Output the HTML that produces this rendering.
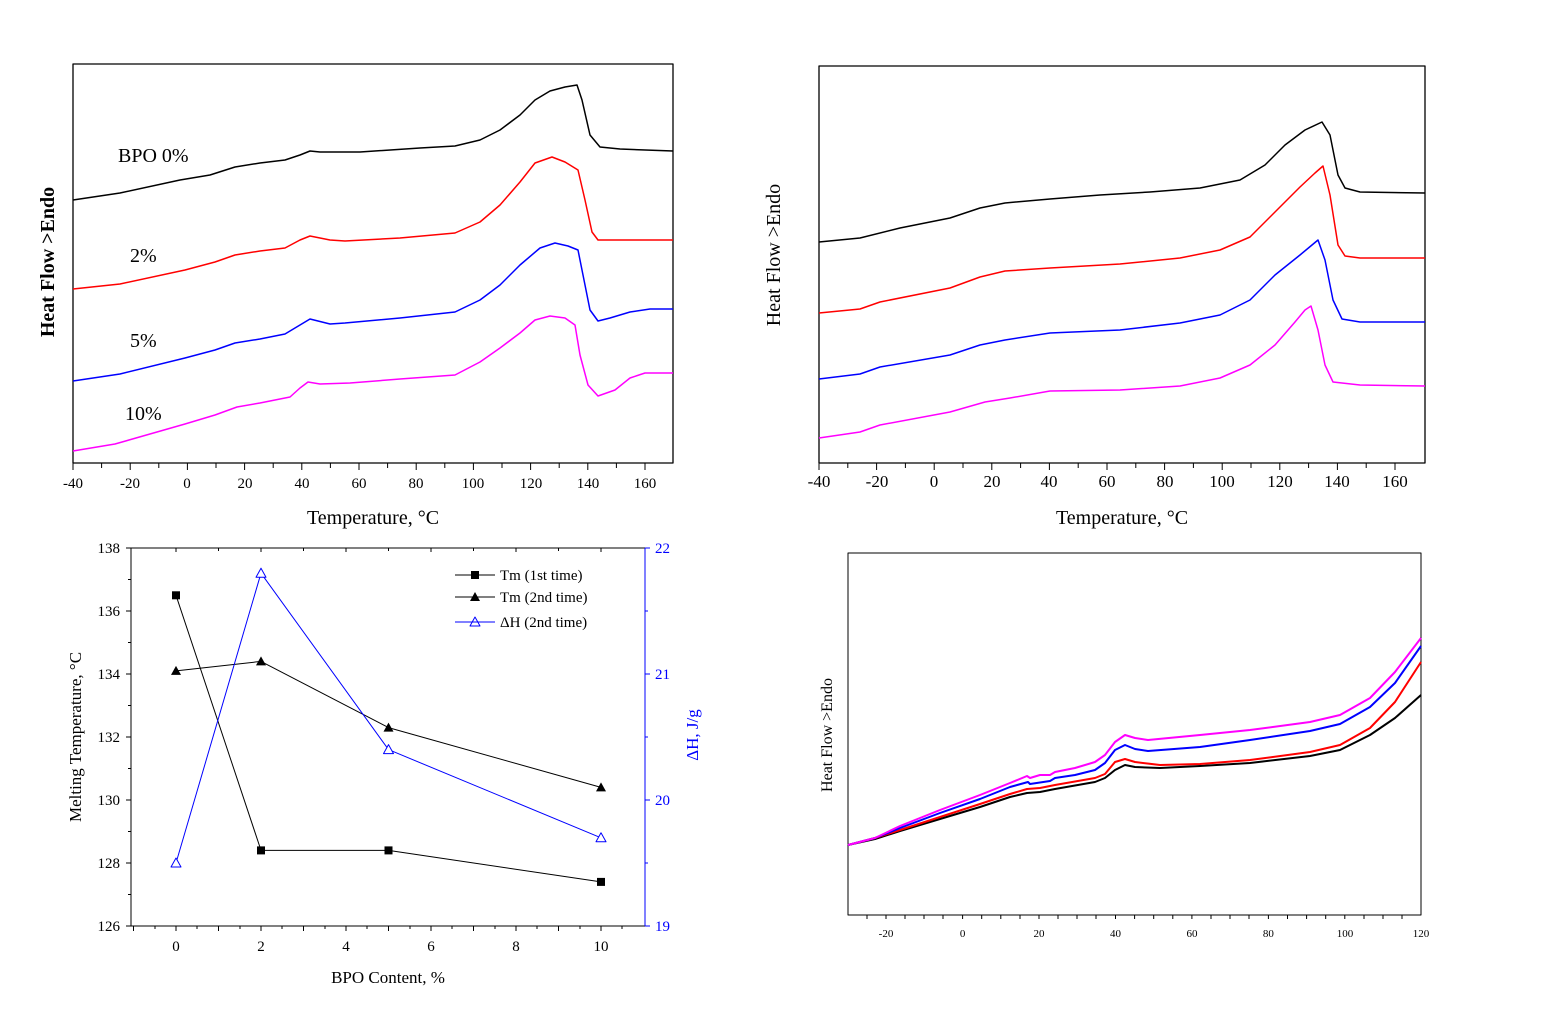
<!DOCTYPE html>
<html><head><meta charset="utf-8"><style>
html,body{margin:0;padding:0;background:#fff;}
svg{display:block;font-family:"Liberation Serif",serif;}
</style></head><body>
<svg width="1553" height="1016" viewBox="0 0 1553 1016" xmlns="http://www.w3.org/2000/svg">
<g fill="none" stroke-width="1.5" stroke-linejoin="round">
<rect x="73" y="64" width="600" height="399" stroke="#000" stroke-width="1.3"/>
<path stroke="#000" d="M73,463v7M101.6,463v5M130.2,463v7M158.8,463v5M187.4,463v7M216,463v5M244.6,463v7M273.2,463v5M301.8,463v7M330.4,463v5M359,463v7M387.6,463v5M416.2,463v7M444.8,463v5M473.4,463v7M502,463v5M530.6,463v7M559.2,463v5M587.8,463v7M616.4,463v5M645,463v7" stroke-width="1"/>
<polyline stroke="#000" points="73,200 120,193 180,180 210,175 235,167 260,163 285,160 300,155 310,151 320,152 360,152 420,148 455,146 480,140 500,130 520,115 535,100 550,91 565,87 577,85 582,100 590,135 600,147 620,149 673,151"/>
<polyline stroke="#f00" points="73,289 120,284 185,270 215,262 235,255 260,251 285,248 300,240 310,236 330,240 345,241 400,238 455,233 480,222 500,205 520,182 535,163 552,157 565,162 578,170 585,200 592,232 598,240 673,240"/>
<polyline stroke="#00f" points="73,381 120,374 185,358 215,350 235,343 260,339 285,334 300,325 310,319 330,324 345,323 400,318 455,312 480,300 500,285 520,265 540,248 555,243 568,246 578,250 583,275 590,310 598,321 610,318 630,312 650,309 673,309"/>
<polyline stroke="#f0f" points="73,451 115,444 185,424 215,415 237,407 260,403 290,397 300,388 308,382 320,384 350,383 400,379 455,375 480,362 500,348 520,333 535,320 550,316 565,318 575,325 580,355 588,385 598,396 615,390 630,378 645,373 673,373"/>
<rect x="819" y="66" width="606" height="397" stroke="#000" stroke-width="1.3"/>
<path stroke="#000" d="M819,463v7M847.8,463v5M876.6,463v7M905.4,463v5M934.2,463v7M963,463v5M991.8,463v7M1020.6,463v5M1049.4,463v7M1078.2,463v5M1107,463v7M1135.8,463v5M1164.6,463v7M1193.4,463v5M1222.2,463v7M1251,463v5M1279.8,463v7M1308.6,463v5M1337.4,463v7M1366.2,463v5M1395,463v7" stroke-width="1"/>
<polyline stroke="#000" points="819,242 860,238 900,228 950,218 980,208 1005,203 1050,199 1100,195 1150,192 1200,188 1240,180 1265,165 1285,145 1305,130 1322,122 1330,135 1338,175 1345,188 1360,192 1425,193"/>
<polyline stroke="#f00" points="819,313 860,309 880,302 950,288 980,277 1005,271 1050,268 1120,264 1180,258 1220,250 1250,237 1275,212 1300,187 1315,173 1323,166 1330,195 1338,245 1345,256 1360,258 1425,258"/>
<polyline stroke="#00f" points="819,379 860,374 880,367 950,355 980,345 1005,340 1050,333 1120,330 1180,323 1220,315 1250,300 1275,275 1300,255 1312,245 1318,240 1325,260 1333,300 1342,319 1360,322 1425,322"/>
<polyline stroke="#f0f" points="819,438 860,432 880,425 950,412 985,402 1010,398 1050,391 1120,390 1180,386 1220,378 1250,365 1275,345 1295,322 1305,310 1311,306 1318,330 1325,365 1333,382 1360,385 1425,386"/>
<path stroke="#000" stroke-width="1" d="M131,548V926H645M131,548H645"/>
<path stroke="#00f" stroke-width="1" d="M645,548V926"/>
<path stroke="#000" stroke-width="1" d="M133.5,926v5M155,926v3M176,926v5M197,926v3M218.5,926v5M240,926v3M261,926v5M282,926v3M303.5,926v5M325,926v3M346,926v5M367,926v3M388.5,926v5M410,926v3M431,926v5M452,926v3M473.5,926v5M495,926v3M516,926v5M537,926v3M558.5,926v5M580,926v3M601,926v5M622,926v3M176,548v4M218.5,548v3M261,548v4M303.5,548v3M346,548v4M388.5,548v3M431,548v4M473.5,548v3M516,548v4M558.5,548v3M601,548v4M131,548h-5M131,579.5h-3M131,611h-5M131,642.5h-3M131,674h-5M131,705.5h-3M131,737h-5M131,768.5h-3M131,800h-5M131,831.5h-3M131,863h-5M131,894.5h-3M131,926h-5"/>
<path stroke="#00f" stroke-width="1" d="M645,548h5M645,611h3M645,674h5M645,737h3M645,800h5M645,863h3M645,926h5"/>
<polyline stroke="#000" stroke-width="1" points="176,595.3 261,850.4 388.5,850.4 601,881.9"/>
<polyline stroke="#000" stroke-width="1" points="176,670.9 261,661.4 388.5,727.6 601,787.4"/>
<polyline stroke="#00f" stroke-width="1" points="176,863 261,573.2 388.5,749.6 601,837.8"/>
<g fill="#000" stroke="none">
<rect x="172" y="591.3" width="8" height="8"/><rect x="257" y="846.4" width="8" height="8"/><rect x="384.5" y="846.4" width="8" height="8"/><rect x="597" y="877.9" width="8" height="8"/>
<path d="M176,665.9l5,9h-10zM261,656.4l5,9h-10zM388.5,722.6l5,9h-10zM601,782.4l5,9h-10z"/>
<rect x="471" y="571" width="8" height="8"/><path d="M475,592l5,9h-10z"/>
</g>
<g stroke="#00f" stroke-width="1" fill="#fff"><path d="M176,858l5,9h-10zM261,568.2l5,9h-10zM388.5,744.6l5,9h-10zM601,832.8l5,9h-10zM475,617l5,9h-10z"/></g>
<path stroke="#000" stroke-width="1" d="M455,575h40M455,597h40"/>
<path stroke="#00f" stroke-width="1" d="M455,622h40"/>
<rect x="848" y="553" width="573" height="362" stroke="#000" stroke-width="1"/>
<path stroke="#000" stroke-width="1" d="M867,915v4M886,915v4M905,915v4M924,915v4M943,915v4M962.6,915v4M981.7,915v4M1000.8,915v4M1020,915v4M1039,915v4M1058,915v4M1077,915v4M1096,915v4M1115.5,915v4M1134.6,915v4M1153.7,915v4M1172.8,915v4M1191.9,915v4M1211,915v4M1230,915v4M1249,915v4M1268.4,915v4M1287.5,915v4M1306.6,915v4M1325.7,915v4M1344.8,915v4M1364,915v4M1383,915v4M1402,915v4"/>
<polyline stroke="#000" stroke-width="2" points="848,845 875,839 900,831 940,819 980,807 1010,797 1027,793 1040,792 1055,789 1095,782 1105,778 1115,770 1125,765 1135,767 1160,768 1200,766 1250,763 1310,756 1340,750 1370,735 1395,718 1421,695"/>
<polyline stroke="#f00" stroke-width="2" points="848,845 875,838 900,830 940,817 980,804 1010,794 1027,789 1040,788 1055,785 1095,778 1105,774 1115,762 1125,759 1135,762 1160,765 1200,764 1250,760 1310,752 1340,745 1370,728 1395,702 1421,662"/>
<polyline stroke="#00f" stroke-width="2" points="848,845 875,838 900,828 940,813 980,799 1010,787 1028,782 1030,784 1050,781 1055,778 1075,775 1095,770 1105,763 1115,750 1125,745 1135,749 1148,751 1200,747 1250,740 1310,731 1340,724 1370,707 1395,683 1421,646"/>
<polyline stroke="#f0f" stroke-width="2" points="848,845 875,838 900,826 940,810 980,795 1010,783 1027,776 1030,778 1040,775 1050,775 1055,772 1075,768 1095,762 1105,755 1115,742 1125,735 1135,738 1148,740 1200,735 1250,730 1310,722 1340,715 1370,698 1395,672 1421,638"/>
</g>
<g font-size="15" fill="#000" text-anchor="middle">
<text x="73" y="488">-40</text><text x="130" y="488">-20</text><text x="187" y="488">0</text><text x="245" y="488">20</text><text x="302" y="488">40</text><text x="359" y="488">60</text><text x="416" y="488">80</text><text x="473" y="488">100</text><text x="531" y="488">120</text><text x="588" y="488">140</text><text x="645" y="488">160</text>
</g>
<g font-size="17" fill="#000" text-anchor="middle">
<text x="819" y="487">-40</text><text x="877" y="487">-20</text><text x="934" y="487">0</text><text x="992" y="487">20</text><text x="1049" y="487">40</text><text x="1107" y="487">60</text><text x="1165" y="487">80</text><text x="1222" y="487">100</text><text x="1280" y="487">120</text><text x="1337" y="487">140</text><text x="1395" y="487">160</text>
</g>
<g font-size="20" fill="#000">
<text x="118" y="162">BPO 0%</text><text x="130" y="262">2%</text><text x="130" y="347">5%</text><text x="125" y="420">10%</text>
<text x="373" y="524" text-anchor="middle">Temperature, °C</text>
<text x="1122" y="524" text-anchor="middle">Temperature, °C</text>
<text transform="translate(54,262) rotate(-90)" text-anchor="middle" font-weight="bold" font-size="20">Heat Flow &gt;Endo</text>
<text transform="translate(780,255) rotate(-90)" text-anchor="middle" font-size="20">Heat Flow &gt;Endo</text>
</g>
<g font-size="15" fill="#000">
<g text-anchor="end"><text x="120" y="553">138</text><text x="120" y="616">136</text><text x="120" y="679">134</text><text x="120" y="742">132</text><text x="120" y="805">130</text><text x="120" y="868">128</text><text x="120" y="931">126</text></g>
<g text-anchor="middle"><text x="176" y="951">0</text><text x="261" y="951">2</text><text x="346" y="951">4</text><text x="431" y="951">6</text><text x="516" y="951">8</text><text x="601" y="951">10</text></g>
<g fill="#00f"><text x="655" y="553">22</text><text x="655" y="679">21</text><text x="655" y="805">20</text><text x="655" y="931">19</text></g>
<text x="500" y="580">Tm (1st time)</text><text x="500" y="602">Tm (2nd time)</text><text x="500" y="627">ΔH (2nd time)</text>
<text x="388" y="983" text-anchor="middle" font-size="17">BPO Content, %</text>
<text transform="translate(81,737) rotate(-90)" text-anchor="middle" font-size="17">Melting Temperature, °C</text>
<text transform="translate(698,735) rotate(-90)" text-anchor="middle" font-size="17" fill="#00f">ΔH, J/g</text>
<text transform="translate(832,735) rotate(-90)" text-anchor="middle" font-size="16">Heat Flow &gt;Endo</text>
</g>
<g font-size="11" fill="#000" text-anchor="middle">
<text x="886" y="937">-20</text><text x="962.6" y="937">0</text><text x="1039" y="937">20</text><text x="1115.5" y="937">40</text><text x="1192" y="937">60</text><text x="1268.4" y="937">80</text><text x="1345" y="937">100</text><text x="1421" y="937">120</text>
</g>
</svg>
</body></html>
